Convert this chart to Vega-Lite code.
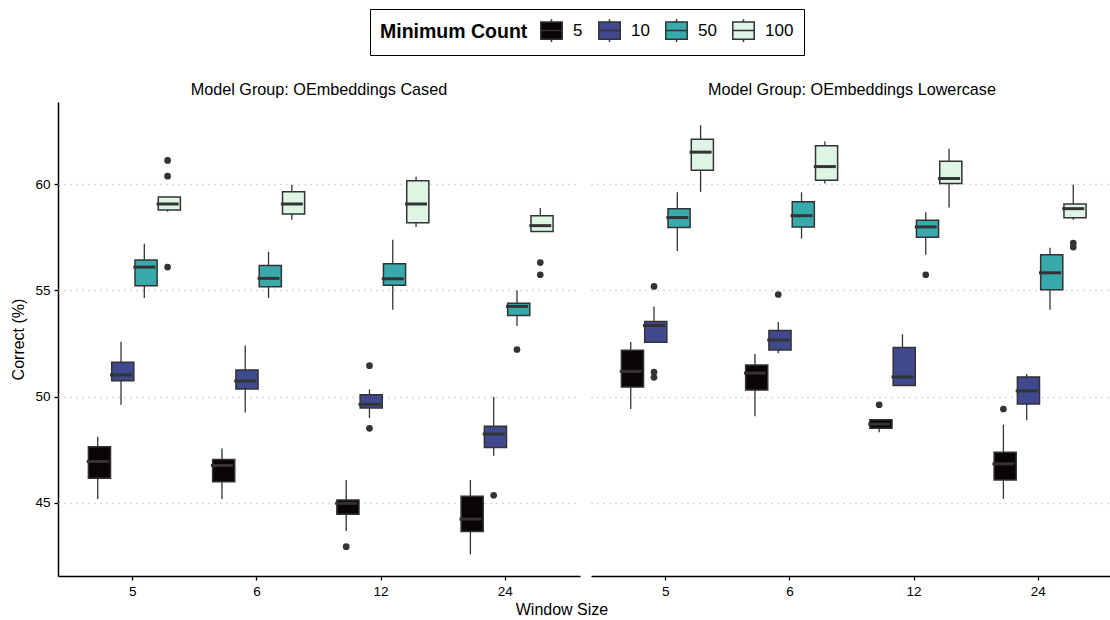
{
  "$schema": "https://vega.github.io/schema/vega-lite/v6.json",
  "padding": {"left": 10, "top": 8, "right": 0, "bottom": 0},
  "background": "white",
  "title": {"text": "Window Size", "orient": "bottom", "anchor": "middle", "fontSize": 16, "fontWeight": "normal", "color": "black", "offset": 4},
  "data": {"values": [
    {"g":"OEmbeddings Cased","w":"5","c":"5","lo":45.19,"q1":46.16,"med":46.95,"q3":47.64,"hi":48.11},
    {"g":"OEmbeddings Cased","w":"5","c":"10","lo":49.62,"q1":50.75,"med":51.02,"q3":51.62,"hi":52.58},
    {"g":"OEmbeddings Cased","w":"5","c":"50","lo":54.65,"q1":55.22,"med":56.10,"q3":56.43,"hi":57.20},
    {"g":"OEmbeddings Cased","w":"5","c":"100","lo":58.71,"q1":58.79,"med":59.07,"q3":59.40,"hi":59.40},
    {"g":"OEmbeddings Cased","w":"5","c":"100","out":61.12},
    {"g":"OEmbeddings Cased","w":"5","c":"100","out":60.38},
    {"g":"OEmbeddings Cased","w":"5","c":"100","out":56.10},
    {"g":"OEmbeddings Cased","w":"6","c":"5","lo":45.19,"q1":46.0,"med":46.76,"q3":47.04,"hi":47.56},
    {"g":"OEmbeddings Cased","w":"6","c":"10","lo":49.26,"q1":50.36,"med":50.74,"q3":51.26,"hi":52.41},
    {"g":"OEmbeddings Cased","w":"6","c":"50","lo":54.65,"q1":55.17,"med":55.57,"q3":56.18,"hi":56.82},
    {"g":"OEmbeddings Cased","w":"6","c":"100","lo":58.33,"q1":58.60,"med":59.07,"q3":59.64,"hi":59.98},
    {"g":"OEmbeddings Cased","w":"12","c":"5","lo":43.68,"q1":44.47,"med":44.98,"q3":45.14,"hi":46.08},
    {"g":"OEmbeddings Cased","w":"12","c":"5","out":42.94},
    {"g":"OEmbeddings Cased","w":"12","c":"10","lo":49.0,"q1":49.47,"med":49.64,"q3":50.09,"hi":50.34},
    {"g":"OEmbeddings Cased","w":"12","c":"10","out":51.46},
    {"g":"OEmbeddings Cased","w":"12","c":"10","out":48.51},
    {"g":"OEmbeddings Cased","w":"12","c":"50","lo":54.09,"q1":55.24,"med":55.55,"q3":56.26,"hi":57.39},
    {"g":"OEmbeddings Cased","w":"12","c":"100","lo":57.99,"q1":58.19,"med":59.07,"q3":60.16,"hi":60.35},
    {"g":"OEmbeddings Cased","w":"24","c":"5","lo":42.58,"q1":43.65,"med":44.24,"q3":45.31,"hi":46.08},
    {"g":"OEmbeddings Cased","w":"24","c":"10","lo":47.22,"q1":47.61,"med":48.24,"q3":48.61,"hi":50.0},
    {"g":"OEmbeddings Cased","w":"24","c":"10","out":45.36},
    {"g":"OEmbeddings Cased","w":"24","c":"50","lo":53.33,"q1":53.82,"med":54.25,"q3":54.40,"hi":55.0},
    {"g":"OEmbeddings Cased","w":"24","c":"50","out":52.22},
    {"g":"OEmbeddings Cased","w":"24","c":"100","lo":57.78,"q1":57.78,"med":58.05,"q3":58.52,"hi":58.88},
    {"g":"OEmbeddings Cased","w":"24","c":"100","out":56.31},
    {"g":"OEmbeddings Cased","w":"24","c":"100","out":55.74},
    {"g":"OEmbeddings Lowercase","w":"5","c":"5","lo":49.42,"q1":50.45,"med":51.19,"q3":52.18,"hi":52.57},
    {"g":"OEmbeddings Lowercase","w":"5","c":"10","lo":52.56,"q1":52.56,"med":53.35,"q3":53.54,"hi":54.25},
    {"g":"OEmbeddings Lowercase","w":"5","c":"10","out":55.19},
    {"g":"OEmbeddings Lowercase","w":"5","c":"10","out":51.16},
    {"g":"OEmbeddings Lowercase","w":"5","c":"10","out":50.91},
    {"g":"OEmbeddings Lowercase","w":"5","c":"50","lo":56.86,"q1":57.96,"med":58.43,"q3":58.85,"hi":59.62},
    {"g":"OEmbeddings Lowercase","w":"5","c":"100","lo":59.64,"q1":60.66,"med":61.51,"q3":62.12,"hi":62.78},
    {"g":"OEmbeddings Lowercase","w":"6","c":"5","lo":49.08,"q1":50.31,"med":51.11,"q3":51.49,"hi":52.01},
    {"g":"OEmbeddings Lowercase","w":"6","c":"10","lo":52.05,"q1":52.20,"med":52.67,"q3":53.11,"hi":53.51},
    {"g":"OEmbeddings Lowercase","w":"6","c":"10","out":54.81},
    {"g":"OEmbeddings Lowercase","w":"6","c":"50","lo":57.44,"q1":57.99,"med":58.52,"q3":59.17,"hi":59.62},
    {"g":"OEmbeddings Lowercase","w":"6","c":"100","lo":60.03,"q1":60.19,"med":60.83,"q3":61.81,"hi":62.01},
    {"g":"OEmbeddings Lowercase","w":"12","c":"5","lo":48.33,"q1":48.52,"med":48.71,"q3":48.92,"hi":48.95},
    {"g":"OEmbeddings Lowercase","w":"12","c":"5","out":49.62},
    {"g":"OEmbeddings Lowercase","w":"12","c":"10","lo":50.53,"q1":50.53,"med":50.93,"q3":52.31,"hi":52.94},
    {"g":"OEmbeddings Lowercase","w":"12","c":"50","lo":56.68,"q1":57.50,"med":57.99,"q3":58.30,"hi":58.68},
    {"g":"OEmbeddings Lowercase","w":"12","c":"50","out":55.74},
    {"g":"OEmbeddings Lowercase","w":"12","c":"100","lo":58.90,"q1":60.03,"med":60.27,"q3":61.08,"hi":61.67},
    {"g":"OEmbeddings Lowercase","w":"24","c":"5","lo":45.19,"q1":46.08,"med":46.84,"q3":47.38,"hi":48.68},
    {"g":"OEmbeddings Lowercase","w":"24","c":"5","out":49.42},
    {"g":"OEmbeddings Lowercase","w":"24","c":"10","lo":48.89,"q1":49.65,"med":50.27,"q3":50.93,"hi":51.07},
    {"g":"OEmbeddings Lowercase","w":"24","c":"50","lo":54.09,"q1":55.03,"med":55.83,"q3":56.68,"hi":57.01},
    {"g":"OEmbeddings Lowercase","w":"24","c":"100","lo":58.33,"q1":58.42,"med":58.85,"q3":59.07,"hi":59.98},
    {"g":"OEmbeddings Lowercase","w":"24","c":"100","out":57.23},
    {"g":"OEmbeddings Lowercase","w":"24","c":"100","out":57.04}
  ]},
  "facet": {
    "column": {
      "field": "g",
      "type": "nominal",
      "title": null,
      "header": {
        "labelExpr": "'Model Group: ' + datum.value",
        "labelFontSize": 16.2,
        "labelColor": "black",
        "labelFont": "Liberation Sans",
        "labelPadding": 4
      }
    }
  },
  "spacing": 11,
  "spec": {
    "width": 522,
    "height": 474,
    "encoding": {
      "x": {
        "field": "w",
        "type": "nominal",
        "sort": ["5", "6", "12", "24"],
        "title": null,
        "scale": {"paddingInner": 0.25, "paddingOuter": 0.226},
        "axis": {"labelAngle": 0}
      },
      "xOffset": {
        "field": "c",
        "type": "nominal",
        "sort": ["5", "10", "50", "100"],
        "scale": {"paddingInner": 0, "paddingOuter": 0}
      }
    },
    "layer": [
      {
        "transform": [{"filter": "isValid(datum.q1)"}],
        "mark": {"type": "rule", "color": "#333333", "strokeWidth": 1.3},
        "encoding": {
          "y": {
            "field": "lo",
            "type": "quantitative",
            "title": "Correct (%)",
            "scale": {"domain": [41.56, 63.87], "nice": false, "zero": false},
            "axis": {"values": [45, 50, 55, 60]}
          },
          "y2": {"field": "hi"}
        }
      },
      {
        "transform": [{"filter": "isValid(datum.q1)"}],
        "mark": {"type": "bar", "stroke": "#333333", "strokeWidth": 1.5, "width": {"band": 0.95}},
        "encoding": {
          "y": {"field": "q1", "type": "quantitative"},
          "y2": {"field": "q3"},
          "fill": {
            "field": "c",
            "type": "nominal",
            "sort": ["5", "10", "50", "100"],
            "scale": {"domain": ["5", "10", "50", "100"], "range": ["#0B0405", "#40498E", "#38AAAC", "#DEF5E5"]},
            "title": "Minimum Count",
            "legend": {
              "orient": "none",
              "legendX": 312,
              "legendY": -93,
              "direction": "horizontal",
              "titleOrient": "left",
              "titleFontSize": 19.5,
              "titleFontWeight": "bold",
              "titleColor": "black",
              "titlePadding": 12,
              "labelFontSize": 17,
              "labelColor": "black",
              "symbolType": "M-1,-0.8H1V0.8H-1Z M-1,0H1 M0,-0.8V-1.05 M0,0.8V1.05",
              "symbolSize": 460,
              "symbolStrokeColor": "#333333",
              "symbolStrokeWidth": 1.5,
              "strokeColor": "black",
              "padding": 10,
              "columnPadding": 12,
              "labelOffset": 10
            }
          }
        }
      },
      {
        "transform": [{"filter": "isValid(datum.q1)"}],
        "mark": {"type": "tick", "color": "#333333", "opacity": 1, "thickness": 3, "size": 22},
        "encoding": {
          "y": {"field": "med", "type": "quantitative"}
        }
      },
      {
        "transform": [{"filter": "isValid(datum.out)"}],
        "mark": {"type": "circle", "color": "#333333", "opacity": 1, "size": 45},
        "encoding": {
          "y": {"field": "out", "type": "quantitative"}
        }
      }
    ]
  },
  "config": {
    "font": "Liberation Sans",
    "view": {"stroke": null},
    "axis": {
      "domainColor": "black",
      "domainWidth": 1.5,
      "tickColor": "black",
      "tickSize": 4,
      "tickWidth": 1.3,
      "labelColor": "black",
      "labelFontSize": 13.5,
      "titleColor": "black",
      "titleFontSize": 16,
      "titleFontWeight": "normal",
      "labelPadding": 4
    },
    "axisX": {"grid": false},
    "axisY": {"grid": true, "gridDash": [1, 5], "gridColor": "#b5b5b5", "gridWidth": 1.3, "titlePadding": 8}
  }
}
